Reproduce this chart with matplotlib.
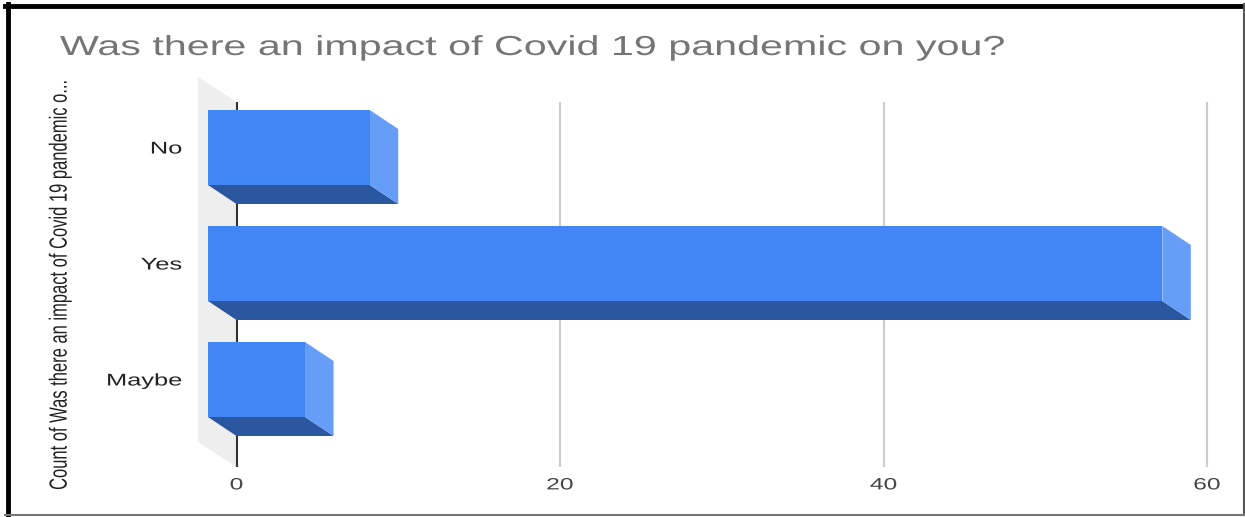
import matplotlib
matplotlib.use("Agg")
import matplotlib.pyplot as plt
from matplotlib.patches import Polygon
from matplotlib.lines import Line2D
from matplotlib.patheffects import AbstractPathEffect
from matplotlib.transforms import Affine2D

plt.rcParams['font.family'] = ['Liberation Sans', 'DejaVu Sans']

# Survey answers and their counts
categories = ['No', 'Yes', 'Maybe']
counts = [10, 59, 6]
x_ticks = [0, 20, 40, 60]
title = 'Was there an impact of Covid 19 pandemic on you?'
y_title = 'Count of Was there an impact of Covid 19 pandemic o...'

W, H = 1245, 517
ZERO_PX, UNIT_PX = 236.5, 16.175      # pixel of x=0 and pixels per count
ROW0_PX, ROW_PX = 147.5, 116          # pixel of first row centre and row spacing
AX_L, AX_R, AX_T, AX_B = 190, 1230, 70, 467

BAR_H = 75 / ROW_PX
BAR_DX, BAR_DY = 28.5 / UNIT_PX, 19 / ROW_PX      # fake 3d depth
WALL_DX, WALL_DY = 38.5 / UNIT_PX, 25 / ROW_PX
GRID_TOP = (102 - ROW0_PX) / ROW_PX

FRONT, SIDE, BOTTOM, WALL = '#4285F4', '#669DF6', '#2B57A0', '#EEEEEE'
STRETCH = 1.5


class Widen(AbstractPathEffect):
    """Stretch text horizontally around one edge of its ink box."""
    def __init__(self, sx, anchor='left'):
        super().__init__()
        self.sx = sx
        self.anchor = anchor

    def draw_path(self, renderer, gc, tpath, affine, rgbFace=None):
        ext = tpath.get_extents(affine)
        x0 = {'left': ext.x0, 'center': (ext.x0 + ext.x1) / 2, 'right': ext.x1}[self.anchor]
        widen = Affine2D().translate(-x0, 0).scale(self.sx, 1).translate(x0, 0)
        renderer.draw_path(gc, tpath, affine + widen, rgbFace)


fig = plt.figure(figsize=(W / 100, H / 100), dpi=100)
ax = fig.add_axes([AX_L / W, 1 - AX_B / H, (AX_R - AX_L) / W, (AX_B - AX_T) / H])
ax.set_xlim((AX_L - ZERO_PX) / UNIT_PX, (AX_R - ZERO_PX) / UNIT_PX)
ax.set_ylim((AX_B - ROW0_PX) / ROW_PX, (AX_T - ROW0_PX) / ROW_PX)
ax.patch.set_visible(False)
for s in ax.spines.values():
    s.set_visible(False)

y_bot = ax.get_ylim()[0]

# grey back wall behind the zero line
ax.add_patch(Polygon([(0, GRID_TOP), (-WALL_DX, GRID_TOP - WALL_DY),
                      (-WALL_DX, y_bot - WALL_DY), (0, y_bot)],
                     closed=True, facecolor=WALL, edgecolor='none', zorder=0))

# gridlines and the zero line
ax.vlines(x_ticks[1:], GRID_TOP, y_bot, color='#CCCCCC', linewidth=1.5, zorder=1)
ax.vlines(0, GRID_TOP, y_bot, color='#333333', linewidth=1.5, zorder=2)

# bars: front face, right side, bottom face
for i, v in enumerate(counts):
    top, bot = i - BAR_H / 2, i + BAR_H / 2
    front = [(-BAR_DX, top), (v - BAR_DX, top), (v - BAR_DX, bot), (-BAR_DX, bot)]
    side = [(v - BAR_DX, top), (v, top + BAR_DY), (v, bot + BAR_DY), (v - BAR_DX, bot)]
    under = [(-BAR_DX, bot), (v - BAR_DX, bot), (v, bot + BAR_DY), (0, bot + BAR_DY)]
    for pts, c in [(under, BOTTOM), (side, SIDE), (front, FRONT)]:
        ax.add_patch(Polygon(pts, closed=True, facecolor=c, edgecolor='none', zorder=3))

ax.set_xticks(x_ticks, [str(t) for t in x_ticks], fontsize=11.8, color='#444444',
              path_effects=[Widen(STRETCH, 'center')])
ax.set_yticks(range(len(categories)), categories, fontsize=12.2, color='#222222',
              path_effects=[Widen(STRETCH, 'right')])
ax.tick_params(axis='x', length=0, pad=7.5)
ax.tick_params(axis='y', length=0, pad=5.8)

fig.text(60 / W, 1 - 55 / H, title, fontsize=19.8, color='#757575',
         ha='left', va='baseline', path_effects=[Widen(STRETCH, 'left')])
fig.text(60 / W, 1 - 284 / H, y_title, fontsize=11.9, color='#222222', rotation=90,
         ha='center', va='center', path_effects=[Widen(STRETCH, 'center')])

# frame around the whole chart
frame = [((5, 1244), (6, 6), 'black', 3.5),
         ((7.5, 7.5), (4, 515), 'black', 3.5),
         ((1243.5, 1243.5), (4, 515), '#555555', 1.5),
         ((5, 1244), (515, 515), '#777777', 1.5)]
for xs, ys, c, lw in frame:
    fig.add_artist(Line2D([x / W for x in xs], [1 - y / H for y in ys],
                          transform=fig.transFigure, color=c, linewidth=lw))

fig.savefig('out.png', dpi=100)
